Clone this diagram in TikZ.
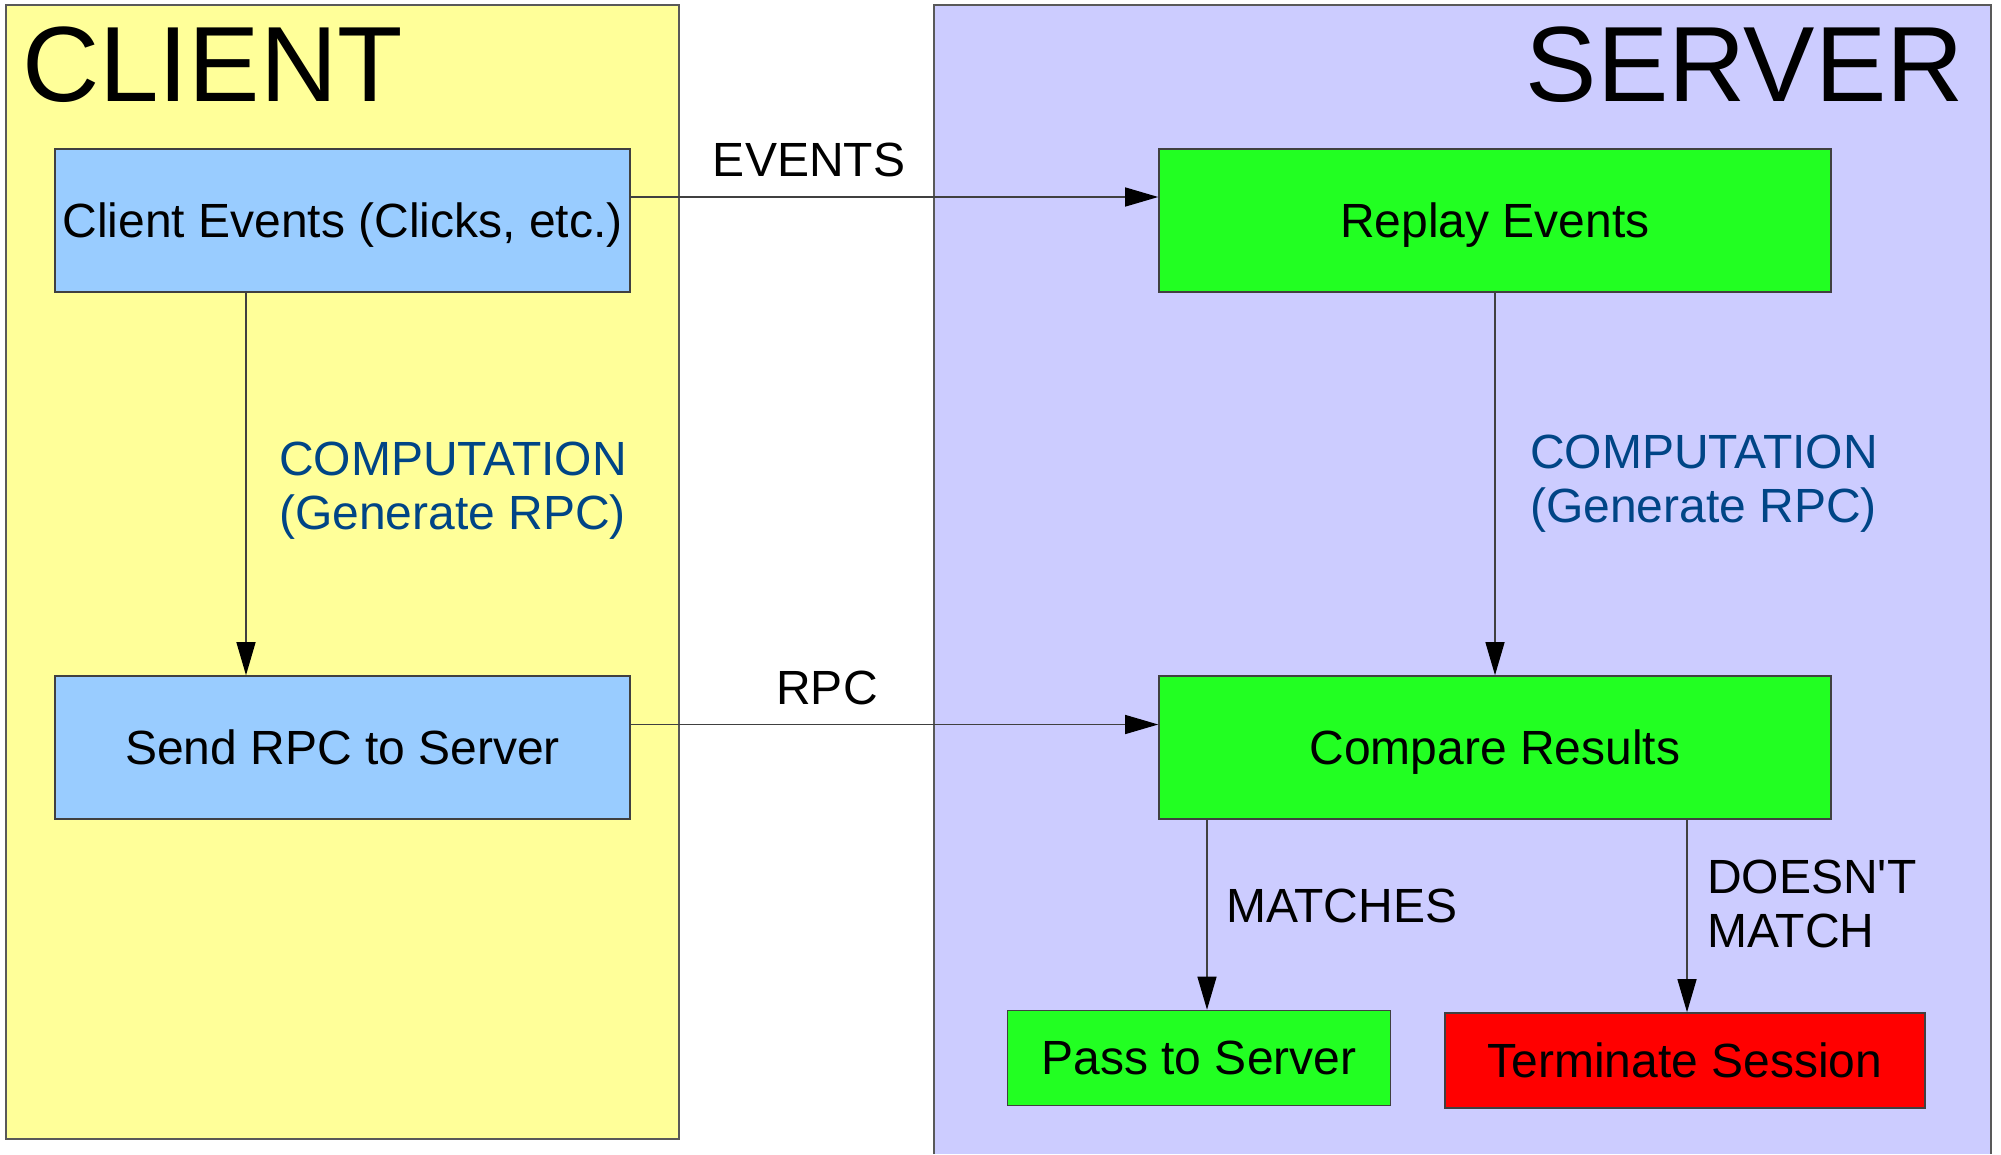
\documentclass[tikz,border=0pt]{standalone}
\usepackage{fontspec}
\newfontfamily\lib{Liberation Sans}
\usetikzlibrary{arrows.meta}
\definecolor{cyel}{HTML}{FFFF99}
\definecolor{clav}{HTML}{CCCCFF}
\definecolor{cltb}{HTML}{99CCFF}
\definecolor{cgrn}{HTML}{22FF22}
\definecolor{cred}{HTML}{FF0000}
\definecolor{cblue}{HTML}{004586}
\newcommand{\twolines}[2]{\vtop{\baselineskip=54pt\hbox{#1}\hbox{#2}}}
\begin{document}
\begin{tikzpicture}[x=1pt,y=-1pt,
  every node/.style={inner sep=0pt, font=\lib\fontsize{48}{55}\selectfont},
  title/.style={font=\lib\fontsize{107}{120}\selectfont},
  box/.style={draw=black!75, line width=1.6pt, text height=43.4pt, text depth=10.2pt},
  panel/.style={draw=black!65, line width=1.6pt},
  arr/.style={draw=black!75, line width=1.3pt, -{Triangle[length=33pt,width=19pt,black]}},
  lbl/.style={anchor=base west},
  clbl/.style={anchor=base}]
\useasboundingbox (0,0) rectangle (2001,1154);
\fill[white] (0,0) rectangle (2001,1154);
% panels
\draw[panel, fill=cyel] (6,5) rectangle (679,1139);
\fill[clav] (934,5) rectangle (1991,1154);
\draw[panel] (934,1154) -- (934,5) -- (1991,5) -- (1991,1154);
\node[title, anchor=base west] (tclient) at (22,101) {CLIENT};
\node[title, anchor=base east] (tserver) at (1964,101) {SERVER};
% boxes
\node[box, fill=cltb, minimum width=575pt, minimum height=143pt] (ce) at (342.5,220.5) {Client Events (Clicks, etc.)};
\node[box, fill=cltb, minimum width=575pt, minimum height=143pt] (sr) at (342.5,747.5) {Send RPC to Server};
\node[box, fill=cgrn, minimum width=672pt, minimum height=143pt] (re) at (1495,220.5) {Replay Events};
\node[box, fill=cgrn, minimum width=672pt, minimum height=143pt] (cr) at (1495,747.5) {Compare Results};
\node[box, fill=cgrn, minimum width=383pt, minimum height=95pt] (ps) at (1199,1058) {Pass to Server};
\node[box, fill=cred, minimum width=480pt, minimum height=95pt] (ts) at (1685,1060.5) {Terminate Session};
% connectors
\draw[arr] ([yshift=23.5pt]ce.east) -- ([yshift=23.5pt]re.west);
\draw[arr] ([yshift=23pt]sr.east) -- ([yshift=23pt]cr.west);
\draw[arr] ([xshift=-96.5pt]ce.south) -- ([xshift=-96.5pt]sr.north);
\draw[arr] (re.south) -- (cr.north);
\coordinate (m0) at ([xshift=-288pt]cr.south);
\coordinate (d0) at ([xshift=192pt]cr.south);
\draw[arr] (m0) -- (m0 |- ps.north);
\draw[arr] (d0) -- (d0 |- ts.north);
% labels
\node[clbl] (lev) at (809,176) {EVENTS};
\node[clbl] (lrpc) at (827,704) {RPC};
\node[lbl, text=cblue] (lcc) at (279,475) {\twolines{COMPUTATION}{(Generate RPC)}};
\node[lbl, text=cblue] (lcs) at (1530,468) {\twolines{COMPUTATION}{(Generate RPC)}};
\node[lbl] (lm) at (1226,922) {MATCHES};
\node[lbl] (ld) at (1707,893) {\twolines{DOESN'T}{MATCH}};
\end{tikzpicture}
\end{document}
